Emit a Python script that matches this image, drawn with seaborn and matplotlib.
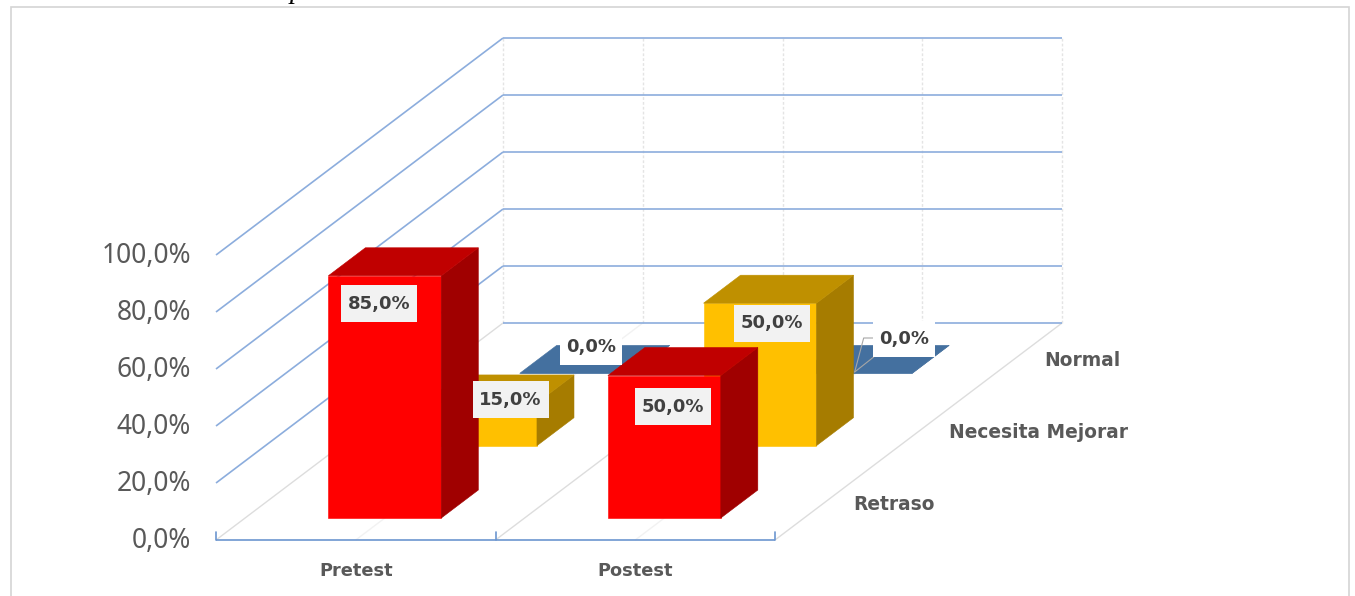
import numpy as np
import matplotlib
matplotlib.use("Agg")
import matplotlib.pyplot as plt
from matplotlib.patches import Polygon, Rectangle
import seaborn as sns

categories = ["Pretest", "Postest"]
series = ["Retraso", "Necesita Mejorar", "Normal"]
retraso = [85.0, 50.0]
necesita_mejorar = [15.0, 50.0]
normal = [0.0, 0.0]
y_ticks = [0, 20, 40, 60, 80, 100]

# front, top and side colour of each series
front_colors = sns.color_palette(["#FF0000", "#FFC000", "#4472A8"])
top_colors = ["#C00000", "#BF9000", "#44709F"]
side_colors = ["#A00000", "#A67C00", "#3A6290"]

# label position relative to the front top middle of its bar, in pixels
label_shift = {
    (0, 0): (-6, 28), (1, 0): (9, 31),
    (0, 1): (30, -3), (1, 1): (12, 20),
    (0, 2): (15, -26), (1, 2): (48, -34),
}

# oblique projection of the chart box onto the image
X0, Y0 = 216.0, 540.0
CAT_W = 279.5
DEPTH_X, DEPTH_Y = 95.67, 72.33
VAL_H = 2.85
BAR_X = (0.298, 0.702)
BAR_D = (0.304, 0.691)


def project(cat, depth, val):
    return X0 + CAT_W * cat + DEPTH_X * depth, Y0 - DEPTH_Y * depth - VAL_H * val


def line3d(ax, a, b, **kw):
    p, q = project(*a), project(*b)
    ax.plot([p[0], q[0]], [p[1], q[1]], solid_capstyle="butt", **kw)


sns.set_theme(style="white")
plt.rcParams["font.family"] = ["Noto Sans", "DejaVu Sans"]

fig = plt.figure(figsize=(13.55, 5.96), dpi=100)
ax = fig.add_axes([0, 0, 1, 1])
ax.set_xlim(0, 1355)
ax.set_ylim(596, 0)
ax.axis("off")

ax.add_patch(Rectangle((11, 7), 1338, 600, fc="white", ec="#D4D4D4", lw=1.2))
ax.text(297, -2, "p", family="Liberation Serif", style="italic", fontsize=20,
        color="black", va="baseline", ha="center", clip_on=True)

n_cat = len(categories)
n_ser = len(series)
grid_blue = "#8CADDD"
axis_blue = "#6C96CF"

# walls
for k in np.arange(0, n_cat + 0.1, 0.5):
    line3d(ax, (k, n_ser, 0), (k, n_ser, 100), color="#E4E4E4", lw=1, ls=(0, (2, 1.5)))
    faint = k != int(k)
    line3d(ax, (k, 0, 0), (k, n_ser, 0), color="#F2F2F2" if faint else "#DDDDDD", lw=1)
for t in y_ticks:
    line3d(ax, (0, n_ser, t), (n_cat, n_ser, t), color=grid_blue, lw=1.2)
    if t > 0:
        line3d(ax, (0, 0, t), (0, n_ser, t), color=grid_blue, lw=1.2)
    px, py = project(0, 0, t)
    ax.text(px - 25, py + 1, f"{t:.1f}%".replace(".", ","), ha="right", va="center",
            fontsize=19, color="#595959")

# front axis
line3d(ax, (0, 0, 0), (n_cat, 0, 0), color=axis_blue, lw=1.2)
for c in range(n_cat + 1):
    px, py = project(c, 0, 0)
    ax.plot([px, px], [py, py - 8], color=axis_blue, lw=1.2)

values = [retraso, necesita_mejorar, normal]

# bars, back to front
for s in reversed(range(n_ser)):
    for c in range(n_cat):
        v = values[s][c]
        x0, x1 = c + BAR_X[0], c + BAR_X[1]
        d0, d1 = s + BAR_D[0], s + BAR_D[1]
        faces = [
            ([(x0, d0, 0), (x1, d0, 0), (x1, d0, v), (x0, d0, v)], front_colors[s]),
            ([(x1, d0, 0), (x1, d1, 0), (x1, d1, v), (x1, d0, v)], side_colors[s]),
            ([(x0, d0, v), (x1, d0, v), (x1, d1, v), (x0, d1, v)], top_colors[s]),
        ]
        for pts, col in faces:
            ax.add_patch(Polygon([project(*p) for p in pts], closed=True, fc=col, ec=col,
                                 lw=0.4, zorder=3))

# leader of the last label
cx = project(1.5, 2 + BAR_D[0], 0)[0]
ax.plot([cx - 1, cx + 8, cx + 18], [372, 338, 338], color="#A6A6A6", lw=0.8, zorder=4)
ax.plot([cx - 1, cx + 18], [372, 357], color="#A6A6A6", lw=0.8, zorder=4)

# data labels
for s in range(n_ser):
    for c in range(n_cat):
        v = values[s][c]
        px, py = project(c + 0.5, s + BAR_D[0], v)
        dx, dy = label_shift[(c, s)]
        zero = v == 0
        w, h = (62, 36) if zero else (76, 37)
        ax.add_patch(Rectangle((px + dx - w / 2, py + dy - h / 2), w, h, ec="none",
                               fc="white" if zero else "#F2F2F2", zorder=5))
        ax.text(px + dx, py + dy, f"{v:.1f}%".replace(".", ","), ha="center", va="center",
                fontsize=13, fontweight="bold", family="DejaVu Sans", color="#404040", zorder=6)

# axis labels
for c, name in enumerate(categories):
    px, py = project(c + 0.5, 0, 0)
    ax.text(px, py + 31, name, ha="center", va="center", fontsize=12.8, fontweight="bold",
            family="DejaVu Sans", color="#595959")
for s, name in enumerate(series):
    px, py = project(n_cat, s + 0.5, 0)
    ax.text(px + 30, py + 1, name, ha="left", va="center", fontsize=13.4, fontweight="bold",
            family="DejaVu Sans", color="#595959")

fig.savefig("out.png", dpi=100)
